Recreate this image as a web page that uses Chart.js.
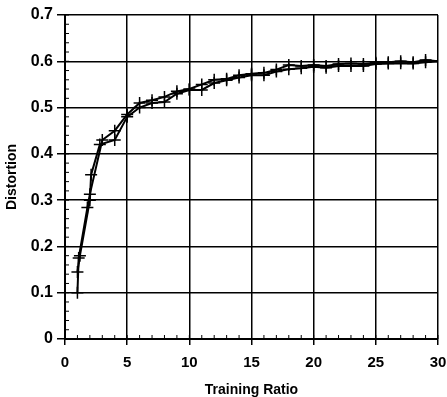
<!DOCTYPE html>
<html>
<head>
<meta charset="utf-8">
<script src="https://cdn.jsdelivr.net/npm/chart.js@4/dist/chart.umd.min.js"></script>
<style>
  html, body { margin: 0; padding: 0; background: #fff; }
  #wrap { width: 447px; height: 397px; }
</style>
</head>
<body>
<div id="wrap"><canvas id="chart"></canvas></div>
<script>
const ratioA = [1, 1.1, 1.8, 2, 3, 4, 5, 6, 7, 8, 9, 10, 11, 12, 13, 14, 15, 16, 17, 18, 19, 20, 21, 22, 23, 24, 25, 26, 27, 28, 29, 30];
const distA = [0.10, 0.175, 0.284, 0.313, 0.43, 0.45, 0.485, 0.51, 0.516, 0.523, 0.535, 0.54, 0.55, 0.56, 0.562, 0.57, 0.573, 0.575, 0.582, 0.592, 0.59, 0.592, 0.59, 0.594, 0.595, 0.594, 0.597, 0.598, 0.60, 0.598, 0.603, 0.60];

const ratioB = [1, 1.2, 2, 2.1, 2.8, 4, 5, 6, 7, 8, 9, 10, 11, 12, 13, 14, 15, 16, 17, 18, 19, 20, 21, 22, 23, 24, 25, 26, 27, 28, 29, 30];
const distB = [0.145, 0.18, 0.30, 0.355, 0.42, 0.43, 0.48, 0.50, 0.51, 0.512, 0.53, 0.538, 0.538, 0.553, 0.559, 0.565, 0.57, 0.57, 0.578, 0.583, 0.585, 0.588, 0.586, 0.59, 0.59, 0.59, 0.594, 0.595, 0.596, 0.595, 0.598, 0.60];

const xTicks = [0, 5, 10, 15, 20, 25, 30];
const yTicks = [0, 0.1, 0.2, 0.3, 0.4, 0.5, 0.6, 0.7];

const font = { family: '"Liberation Sans", Arial, sans-serif', size: 16, weight: 'bold' };

function toPoints(xs, ys) {
    return xs.map((x, i) => ({ x, y: ys[i] }));
}

function series(xs, ys) {
    return {
        data: toPoints(xs, ys),
        borderColor: '#000',
        backgroundColor: '#000',
        borderWidth: 2,
        pointStyle: 'cross',
        pointRadius: 6,
        pointBorderWidth: 1.5,
        pointBorderColor: '#000',
        tension: 0,
    };
}

// small inside ticks on the left and bottom axes
const minorTicks = {
    id: 'minorTicks',
    afterDatasetsDraw(chart) {
        const { ctx, chartArea: a, scales: { x, y } } = chart;
        ctx.save();
        ctx.strokeStyle = '#000';
        ctx.lineWidth = 1;
        ctx.beginPath();
        for (let v = 0; v <= 30; v += 1) {
            const px = x.getPixelForValue(v);
            ctx.moveTo(px, a.bottom);
            ctx.lineTo(px, a.bottom - 4);
        }
        for (let i = 0; i <= 35; i++) {
            const py = y.getPixelForValue(i * 0.02);
            ctx.moveTo(a.left, py);
            ctx.lineTo(a.left + 4, py);
        }
        ctx.stroke();
        ctx.restore();
    },
};

new Chart(document.getElementById('chart'), {
    type: 'line',
    data: { datasets: [series(ratioA, distA), series(ratioB, distB)] },
    plugins: [minorTicks],
    options: {
        responsive: true,
        maintainAspectRatio: false,
        animation: false,
        layout: { padding: { top: 15, right: 9, left: 0, bottom: 0 } },
        plugins: { legend: { display: false }, tooltip: { enabled: false } },
        scales: {
            x: {
                type: 'linear',
                min: 0,
                max: 30,
                afterFit: (s) => { s.height = 58; s.paddingLeft = 0; s.paddingRight = 0; },
                afterBuildTicks: (s) => { s.ticks = xTicks.map((v) => ({ value: v })); },
                grid: { color: '#000', lineWidth: 1.5, tickLength: 6, tickColor: '#000' },
                border: { color: '#000', width: 2 },
                ticks: { color: '#000', font: { ...font, size: 15 }, padding: 9, maxRotation: 0 },
                title: {
                    display: true,
                    text: 'Training Ratio',
                    color: '#000',
                    font: { ...font, size: 14, lineHeight: 1 },
                    padding: { top: 0, bottom: 0 },
                },
            },
            y: {
                type: 'linear',
                min: 0,
                max: 0.7,
                afterFit: (s) => { s.width = 65; s.paddingTop = 0; s.paddingBottom = 0; },
                afterBuildTicks: (s) => { s.ticks = yTicks.map((v) => ({ value: v })); },
                grid: { color: '#000', lineWidth: 1.5, tickLength: 8, tickColor: '#000' },
                border: { color: '#000', width: 2 },
                ticks: { color: '#000', font, padding: 4, callback: (v) => String(v) },
                title: {
                    display: true,
                    text: 'Distortion',
                    color: '#000',
                    font: { ...font, size: 14 },
                    padding: { top: 4, bottom: 0 },
                },
            },
        },
    },
});
</script>
</body>
</html>
